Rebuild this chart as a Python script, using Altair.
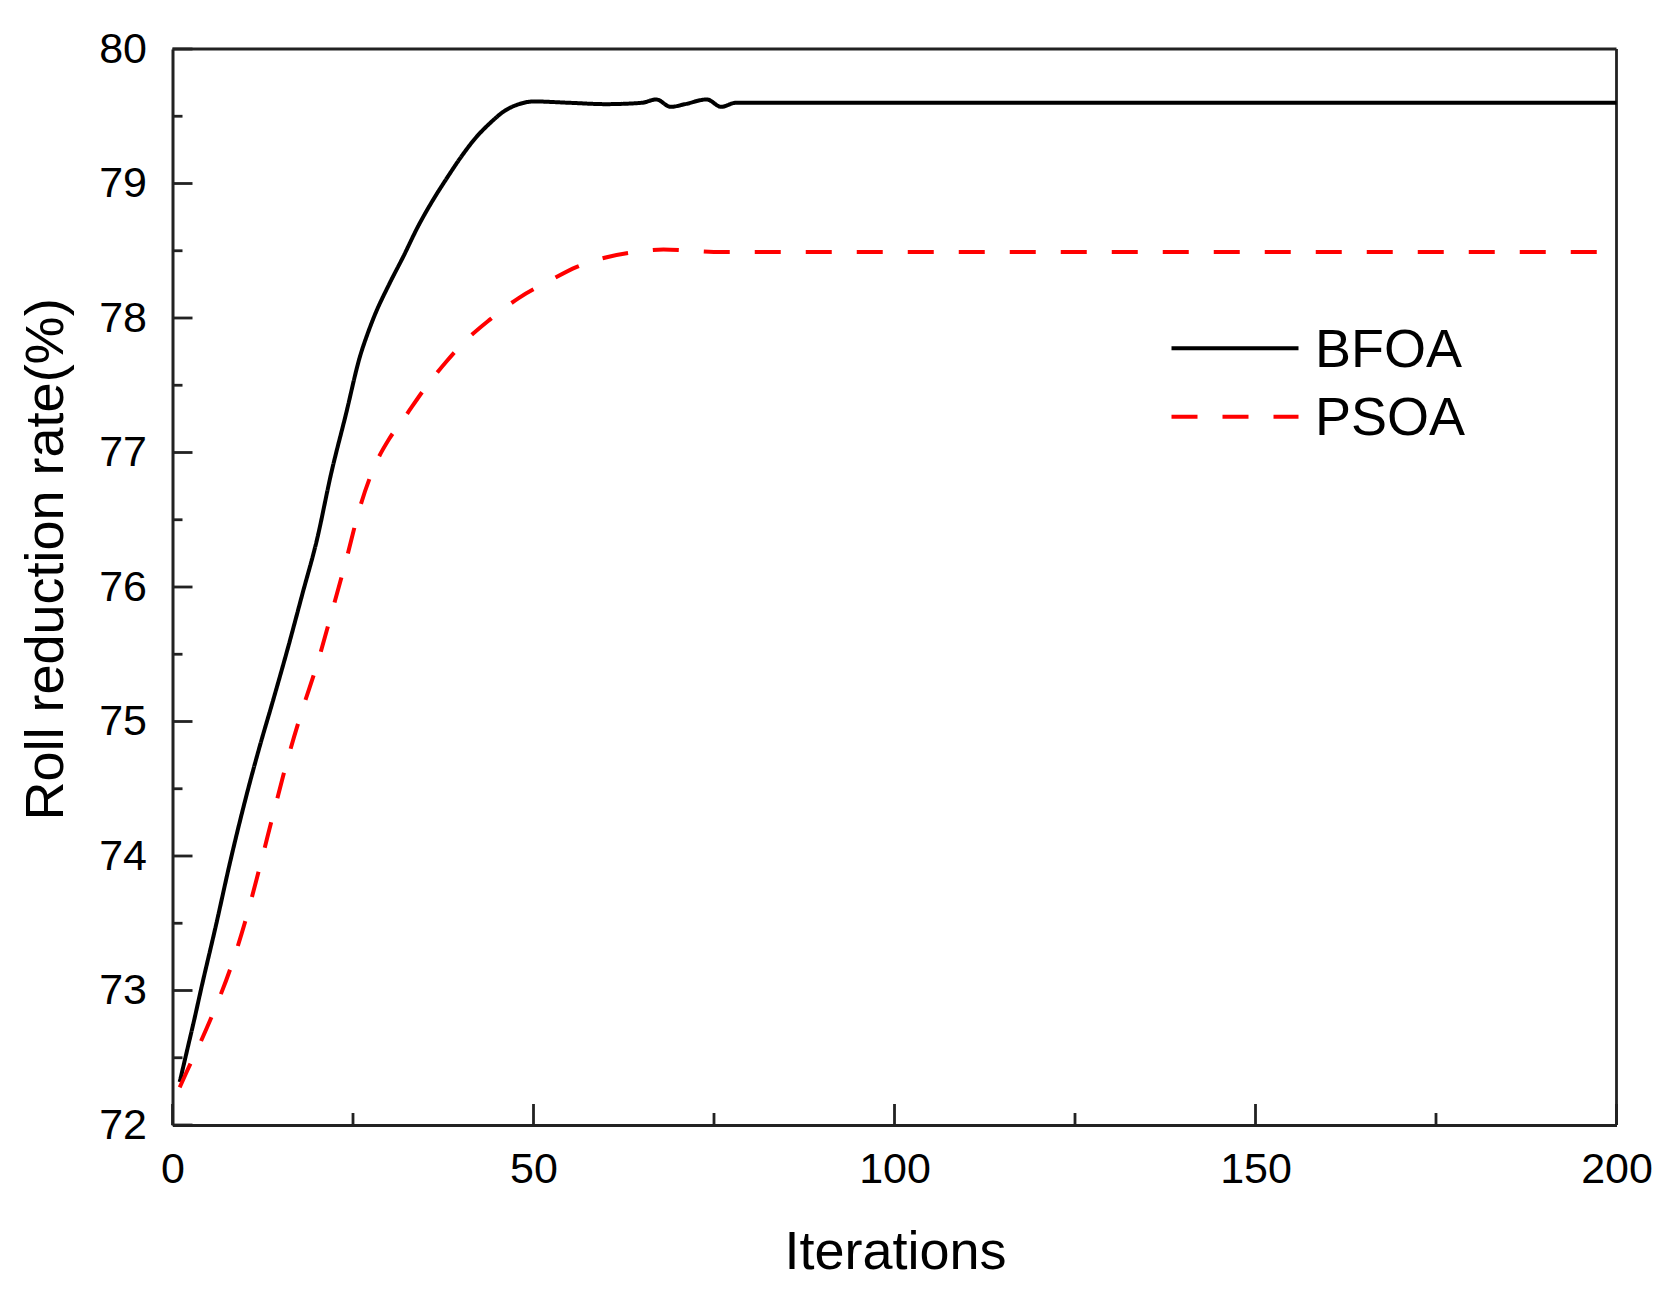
import altair as alt
import pandas as pd

# ---- data ----
bfoa_iter = [1, 2, 3, 4, 6, 8, 10, 12, 14, 16, 18, 20, 22, 24, 26, 27, 28, 30, 32, 34, 36, 38,
             40, 42, 44, 46, 48, 50, 55, 60, 65, 67, 69, 71, 74, 76, 78, 100, 150, 200]
bfoa_val = [72.32, 72.55, 72.78, 73.02, 73.48, 73.96, 74.40, 74.80, 75.17, 75.55, 75.95, 76.35,
            76.85, 77.28, 77.72, 77.88, 78.02, 78.25, 78.46, 78.68, 78.87, 79.04,
            79.20, 79.34, 79.45, 79.54, 79.59, 79.61, 79.60, 79.59, 79.60, 79.625, 79.57, 79.59,
            79.625, 79.57, 79.60, 79.60, 79.60, 79.60]

psoa_iter = [1, 2, 4, 6, 8, 10, 12, 14, 16, 18, 20, 22, 24, 26, 28, 30, 32, 35, 38, 40, 44,
             48, 52, 56, 60, 64, 68, 72, 76, 80, 100, 150, 200]
psoa_val = [72.28, 72.40, 72.63, 72.88, 73.16, 73.50, 73.90, 74.32, 74.73, 75.09, 75.42, 75.80,
            76.19, 76.60, 76.90, 77.10, 77.25, 77.48, 77.68, 77.80, 77.99,
            78.15, 78.27, 78.38, 78.45, 78.49, 78.51, 78.50, 78.49, 78.49, 78.49, 78.49, 78.49]

series_names = ["BFOA", "PSOA"]
series_colors = ["#000000", "#ff0000"]
series_dash = [[1, 0], [26, 25]]

x_major = [0, 50, 100, 150, 200]
x_minor = [25, 75, 125, 175]
y_major = [72, 73, 74, 75, 76, 77, 78, 79, 80]
y_minor = [72.5, 73.5, 74.5, 75.5, 76.5, 77.5, 78.5, 79.5]

FONT = "Liberation Sans"
W, H = 1444, 1076

df = pd.concat([
    pd.DataFrame({"it": bfoa_iter, "val": bfoa_val, "series": "BFOA"}),
    pd.DataFrame({"it": psoa_iter, "val": psoa_val, "series": "PSOA"}),
])

xscale = alt.Scale(domain=[0, 200], nice=False, zero=False)
yscale = alt.Scale(domain=[72, 80], nice=False, zero=False)
cscale = alt.Scale(domain=series_names, range=series_colors)
dscale = alt.Scale(domain=series_names, range=series_dash)

xaxis = alt.Axis(values=x_major, ticks=False, grid=False, labelFontSize=43, labelFont=FONT,
                 labelColor="black", labelPadding=23, labelFlush=False, labelOverlap=False,
                 title="Iterations", titleFont=FONT, titleFontSize=54, titleFontWeight="normal",
                 titleColor="black", titleX=722.5, titleY=143, titleBaseline="alphabetic",
                 titleAlign="center", domainColor="#222", domainWidth=3, format="d")
yaxis = alt.Axis(values=y_major, ticks=False, grid=False, labelFontSize=43, labelFont=FONT,
                 labelColor="black", labelPadding=26, labelOverlap=False,
                 title="Roll reduction rate(%)", titleFont=FONT, titleFontSize=54,
                 titleFontWeight="normal", titleColor="black", titleAngle=270,
                 titleX=-110, titleY=510, titleBaseline="alphabetic", titleAlign="center",
                 domainColor="#222", domainWidth=3, format="d")

lines = alt.Chart(df).mark_line(strokeWidth=4, interpolate="monotone").encode(
    x=alt.X("it:Q", scale=xscale, axis=xaxis),
    y=alt.Y("val:Q", scale=yscale, axis=yaxis),
    color=alt.Color("series:N", scale=cscale, legend=None),
    strokeDash=alt.StrokeDash("series:N", scale=dscale, legend=None),
    detail="series:N",
)

tick_color = "#222"

def yticks(vals, length):
    return alt.Chart(pd.DataFrame({"v": vals})).mark_rule(color=tick_color, strokeWidth=2.8).encode(
        y=alt.Y("v:Q", scale=yscale), x=alt.value(0), x2=alt.value(length))

def xticks(vals, length):
    return alt.Chart(pd.DataFrame({"v": vals})).mark_rule(color=tick_color, strokeWidth=2.8).encode(
        x=alt.X("v:Q", scale=xscale), y=alt.value(H), y2=alt.value(H - length))

# top and right frame lines
frame_top = alt.Chart(pd.DataFrame({"v": [80]})).mark_rule(color="#222", strokeWidth=2.8).encode(
    y=alt.Y("v:Q", scale=yscale), x=alt.value(0), x2=alt.value(W))
frame_right = alt.Chart(pd.DataFrame({"v": [200]})).mark_rule(color="#222", strokeWidth=2.8).encode(
    x=alt.X("v:Q", scale=xscale), y=alt.value(0), y2=alt.value(H))

layers = [yticks(y_major, 20), yticks(y_minor, 10), xticks(x_major, 21), xticks(x_minor, 12),
          frame_top, frame_right, lines]

# manual legend (inside plot, upper right)
legend_rows = [("BFOA", 299.3, 317.7), ("PSOA", 367.7, 386.0)]
for name, ly, lb in legend_rows:
    ld = pd.DataFrame({"series": [name]})
    layers.append(alt.Chart(ld).mark_rule(strokeWidth=4).encode(
        x=alt.value(999), x2=alt.value(1126), y=alt.value(ly),
        color=alt.Color("series:N", scale=cscale, legend=None),
        strokeDash=alt.StrokeDash("series:N", scale=dscale, legend=None)))
    layers.append(alt.Chart(ld).mark_text(align="left", baseline="alphabetic", fontSize=54,
                                          font=FONT, color="black").encode(
        x=alt.value(1142.5), y=alt.value(lb), text="series:N"))

chart = alt.layer(*layers).properties(
    width=W, height=H,
    background="white",
    autosize=alt.AutoSizeParams(type="none"),
    padding={"left": 164.5, "top": 41, "right": 50, "bottom": 160},
).configure_view(stroke=None)

chart.save("out.html", embed_options={"renderer": "svg", "actions": False})
